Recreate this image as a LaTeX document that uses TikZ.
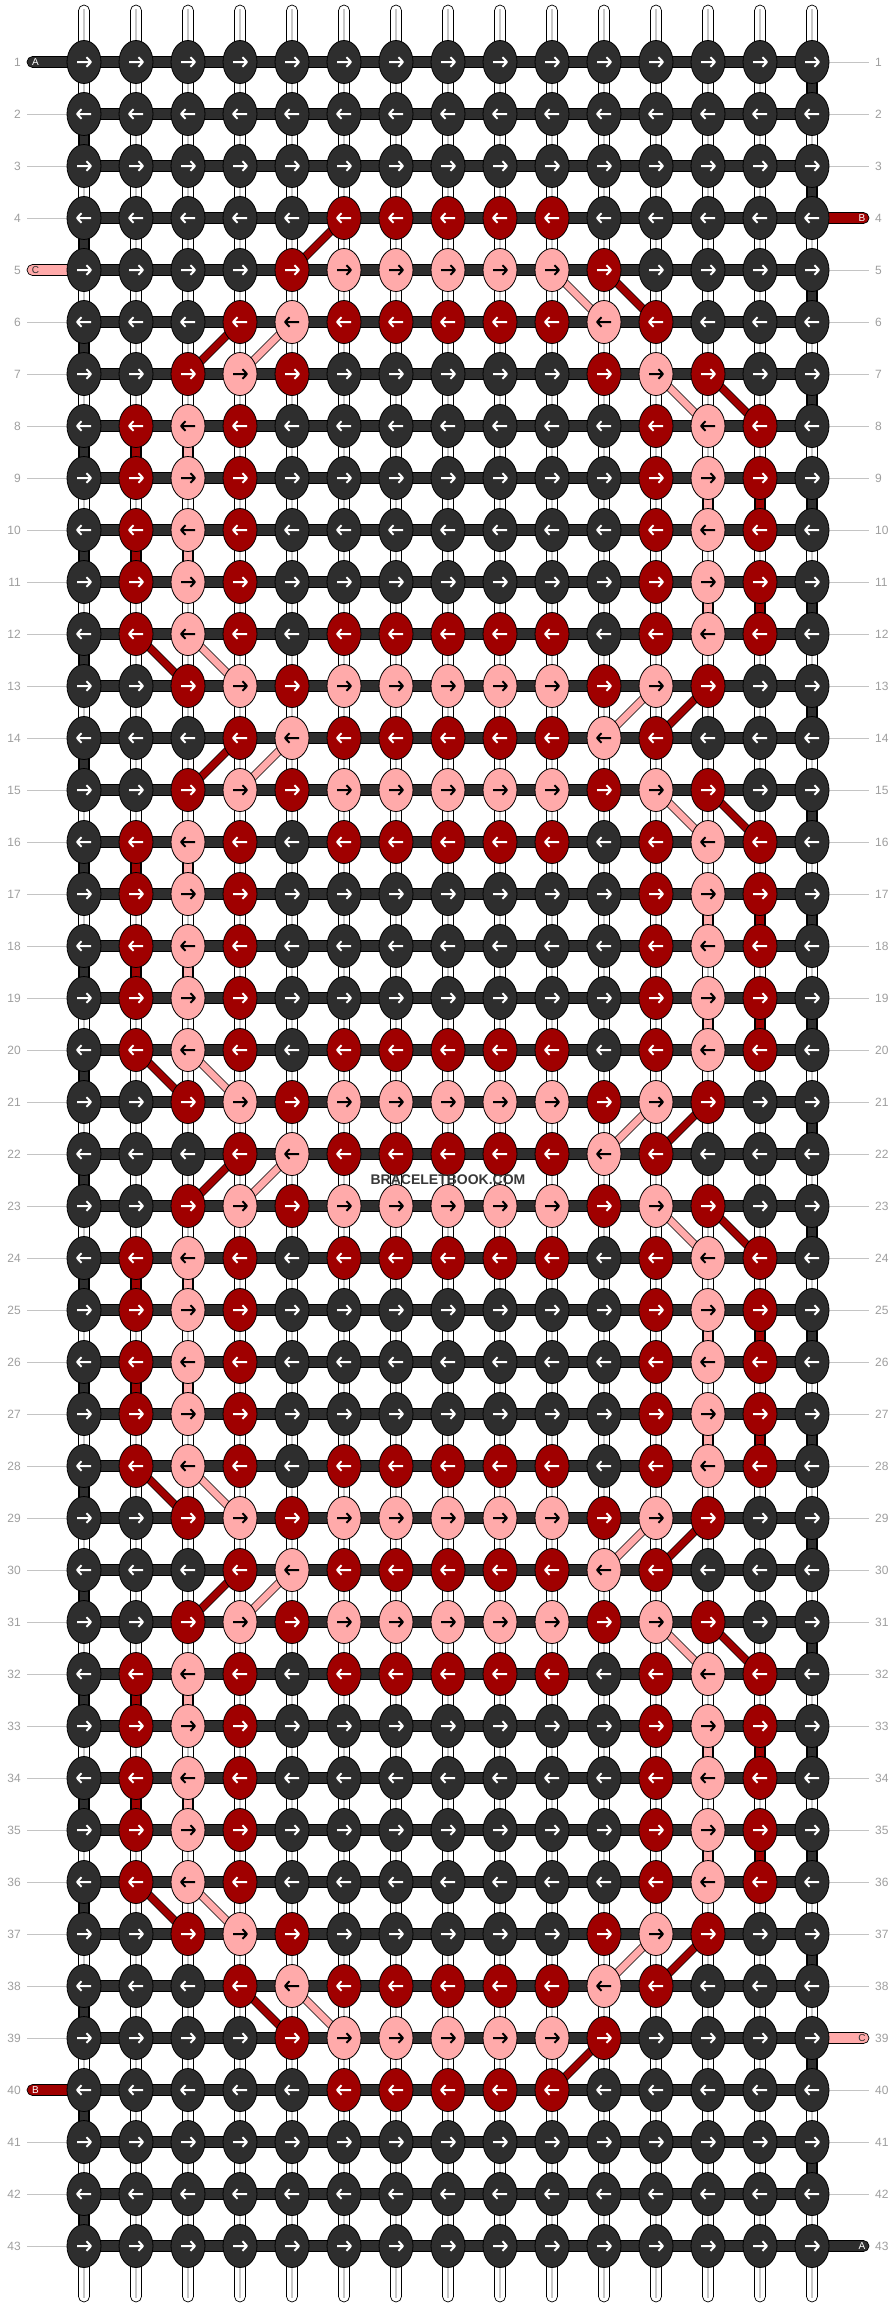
\documentclass[tikz,border=0pt]{standalone}
\usepackage{fontspec}
\setmainfont{Liberation Sans}
\usetikzlibrary{shapes.geometric}
\definecolor{cK}{HTML}{2E2E2E}
\definecolor{cR}{HTML}{A00000}
\definecolor{cP}{HTML}{FFAAAA}
\definecolor{aK}{HTML}{FFFFFF}
\definecolor{aR}{HTML}{FFFFFF}
\definecolor{aP}{HTML}{000000}
\definecolor{numgray}{HTML}{9E9E9E}
\definecolor{linegray}{HTML}{C4C4C4}
\definecolor{tubegray}{HTML}{C8C8C8}
\definecolor{wmcol}{HTML}{383838}
\pgfdeclarelayer{tubes}
\pgfdeclarelayer{bars}
\pgfdeclarelayer{conn}
\pgfsetlayers{tubes,bars,conn,main}
\def\rD{K,K,K,K,K,K,K,K,K,K,K,K,K,K,K}
\def\rIV{K,K,K,K,K,R,R,R,R,R,K,K,K,K,K}
\def\rV{K,K,K,K,R,P,P,P,P,P,R,K,K,K,K}
\def\rVI{K,K,K,R,P,R,R,R,R,R,P,R,K,K,K}
\def\rVII{K,K,R,P,R,K,K,K,K,K,R,P,R,K,K}
\def\rSide{K,R,P,R,K,K,K,K,K,K,K,R,P,R,K}
\def\rBand{K,R,P,R,K,R,R,R,R,R,K,R,P,R,K}
\def\rPink{K,K,R,P,R,P,P,P,P,P,R,P,R,K,K}
\tikzset{
  knot/.style={ellipse, draw=black, line width=0.8pt, minimum width=34pt, minimum height=43pt, inner sep=0pt},
  arrowline/.style={line width=2pt, line join=round},
  bar/.style={draw=black, line width=0.6pt, fill=cK},
  tube/.style={draw=black, line width=0.7pt, fill=white, rounded corners=5.5pt},
  tubeline/.style={draw=tubegray, line width=1.4pt},
  vlink/.style={draw=black, line width=0.7pt, double=#1, double distance=8.6pt},
  dlink/.style={draw=black, line width=0.7pt, double=#1, double distance=7pt},
  stub/.style={draw=black, line width=0.7pt, rounded corners=5.5pt},
  stublab/.style={inner sep=0pt, font=\fontsize{10}{10}\selectfont},
  gline/.style={draw=linegray, line width=1pt},
  numlab/.style={inner sep=0pt, text=numgray, font=\fontsize{12}{12}\selectfont},
  wmark/.style={inner sep=0pt, text=wmcol, font=\bfseries\fontsize{14}{14}\selectfont}
}
\begin{document}
\begin{tikzpicture}[x=1pt,y=-1pt]
\useasboundingbox (0,0) rectangle (896,2308);
% knots
\foreach \ri/\spec in {1/\rD,2/\rD,3/\rD,4/\rIV,5/\rV,6/\rVI,7/\rVII,8/\rSide,9/\rSide,10/\rSide,11/\rSide,12/\rBand,13/\rPink,14/\rVI,15/\rPink,16/\rBand,17/\rSide,18/\rSide,19/\rSide,20/\rBand,21/\rPink,22/\rVI,23/\rPink,24/\rBand,25/\rSide,26/\rSide,27/\rSide,28/\rBand,29/\rPink,30/\rVI,31/\rPink,32/\rBand,33/\rSide,34/\rSide,35/\rSide,36/\rSide,37/\rVII,38/\rVI,39/\rV,40/\rIV,41/\rD,42/\rD,43/\rD}{
  \edef\rowspec{\spec}
  \foreach \cl [count=\ci] in \rowspec {
    \node[knot, fill=c\cl] (k-\ri-\ci) at ({84+52*(\ci-1)},{62+52*(\ri-1)}) {};
    \ifodd\ri\relax
      \draw[arrowline, draw=a\cl, shift={(k-\ri-\ci.center)}] (-7,0) -- (7,0) (2.5,-4.8) -- (7,0) -- (2.5,4.8);
    \else
      \draw[arrowline, draw=a\cl, shift={(k-\ri-\ci.center)}] (7,0) -- (-7,0) (-2.5,-4.8) -- (-7,0) -- (-2.5,4.8);
    \fi
  }
}
% warp tubes
\begin{pgfonlayer}{tubes}
\foreach \ci in {1,...,15}{
  \coordinate (tt-\ci) at ({84+52*(\ci-1)},5);
  \coordinate (tb-\ci) at ({84+52*(\ci-1)},2302);
  \draw[tube] ([xshift=-5.5pt]tt-\ci) rectangle ([xshift=5.5pt]tb-\ci);
  \draw[tubeline] ([yshift=-4pt]tt-\ci) -- ([yshift=4pt]tb-\ci);
}
\end{pgfonlayer}
% rows, stubs, labels
\begin{pgfonlayer}{bars}
\foreach \ri in {1,...,43}{
  \draw[bar] ([yshift=-5.5pt]k-\ri-1.center) rectangle ([yshift=5.5pt]k-\ri-15.center);
  \coordinate (ll-\ri) at (27,{62+52*(\ri-1)});
  \coordinate (rl-\ri) at (869,{62+52*(\ri-1)});
  \node[numlab, anchor=east] (nl-\ri) at (21,{62+52*(\ri-1)}) {\ri};
  \node[numlab, anchor=west] (nr-\ri) at (875,{62+52*(\ri-1)}) {\ri};
}
\foreach \ri in {2,3,4,6,7,...,39,41,42,43}{
  \draw[gline] (ll-\ri) -- (k-\ri-1.center);
}
\foreach \ri in {1,2,3,5,6,...,38,40,41,42}{
  \draw[gline] (k-\ri-15.center) -- (rl-\ri);
}
\foreach \ri/\lab/\cl/\tc in {1/A/K/white,5/C/P/cK,40/B/R/white}{
  \draw[stub, fill=c\cl] ([yshift=-5.5pt]ll-\ri) rectangle ([yshift=5.5pt]k-\ri-1.center);
  \node[stublab, text=\tc] (lsl-\ri) at ([xshift=8.5pt]ll-\ri) {\lab};
}
\foreach \ri/\lab/\cl/\tc in {4/B/R/white,39/C/P/cK,43/A/K/white}{
  \draw[stub, fill=c\cl] ([yshift=-5.5pt]k-\ri-15.center) rectangle ([yshift=5.5pt]rl-\ri);
  \node[stublab, text=\tc] (rsl-\ri) at ([xshift=-7pt]rl-\ri) {\lab};
}
% edge turns of the dark working string
\foreach \a [evaluate=\a as \b using int(\a+1)] in {2,4,...,42}{
  \draw[vlink=cK] (k-\a-1.center) -- (k-\b-1.center);
}
\foreach \a [evaluate=\a as \b using int(\a+1)] in {1,3,...,41}{
  \draw[vlink=cK] (k-\a-15.center) -- (k-\b-15.center);
}
\end{pgfonlayer}
% coloured string paths
\begin{pgfonlayer}{conn}
\foreach \a [evaluate=\a as \b using int(\a+1)] in {8,10,16,18,24,26,32,34}{
  \draw[vlink=cR] (k-\a-2.center) -- (k-\b-2.center);
  \draw[vlink=cP] (k-\a-3.center) -- (k-\b-3.center);
}
\foreach \a [evaluate=\a as \b using int(\a+1)] in {9,11,17,19,25,27,33,35}{
  \draw[vlink=cP] (k-\a-13.center) -- (k-\b-13.center);
  \draw[vlink=cR] (k-\a-14.center) -- (k-\b-14.center);
}
\foreach \a/\u/\v/\cl [evaluate=\a as \b using int(\a+1)] in {
  4/6/5/R, 6/4/3/R, 6/5/4/P,
  12/2/3/R, 12/3/4/P, 14/4/3/R, 14/5/4/P,
  20/2/3/R, 20/3/4/P, 22/4/3/R, 22/5/4/P,
  28/2/3/R, 28/3/4/P, 30/4/3/R, 30/5/4/P,
  36/2/3/R, 36/3/4/P, 38/4/5/R, 38/5/6/P,
  5/10/11/P, 5/11/12/R, 7/12/13/P, 7/13/14/R,
  13/12/11/P, 13/13/12/R, 15/12/13/P, 15/13/14/R,
  21/12/11/P, 21/13/12/R, 23/12/13/P, 23/13/14/R,
  29/12/11/P, 29/13/12/R, 31/12/13/P, 31/13/14/R,
  37/12/11/P, 37/13/12/R, 39/11/10/R}{
  \draw[dlink=c\cl] (k-\a-\u.center) -- (k-\b-\v.center);
}
\end{pgfonlayer}
\node[wmark] (wm) at (448,1180) {BRACELETBOOK.COM};
\end{tikzpicture}
\end{document}
